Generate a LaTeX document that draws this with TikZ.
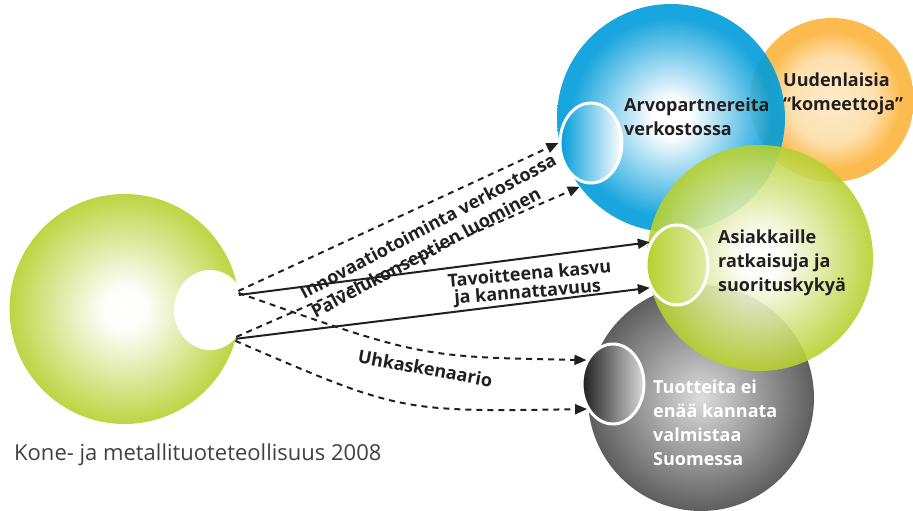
\documentclass[tikz,border=0pt]{standalone}
\usepackage{fontspec}
\setmainfont{Open Sans}
\usetikzlibrary{arrows.meta,shapes.geometric}
\definecolor{cblue}{RGB}{0,156,218}
\definecolor{cgreen}{RGB}{182,208,46}
\definecolor{corange}{RGB}{251,180,60}
\definecolor{cdark}{RGB}{35,31,32}
\definecolor{ctext}{RGB}{65,64,66}
\pgfdeclareradialshading{shblue}{\pgfpoint{0bp}{0bp}}{color(0bp)=(white); color(4bp)=(white); color(22bp)=(cblue); color(50bp)=(cblue)}
\pgfdeclareradialshading{shgreen}{\pgfpoint{0bp}{0bp}}{color(0bp)=(white); color(5bp)=(white!96!cgreen); color(25bp)=(cgreen); color(50bp)=(cgreen)}
\pgfdeclareradialshading{shorange}{\pgfpoint{0bp}{0bp}}{color(0bp)=(corange!30!white); color(13bp)=(corange!45!white); color(21bp)=(corange); color(50bp)=(corange)}
\pgfdeclareradialshading{shgray}{\pgfpoint{0bp}{0bp}}{color(0bp)=(black!15); color(25bp)=(black!70); color(50bp)=(black!70)}
\newcommand\lblfont{\fontsize{18}{24}\selectfont\bfseries}
\tikzset{
  ball/.style={circle, inner sep=0pt, fill opacity=0.9},
  ring/.style={ellipse, draw=white, line width=3pt, inner sep=0pt, minimum width=62pt, minimum height=80pt},
  conn/.style={line width=2pt, draw=cdark, -{Triangle[length=12pt,width=10pt]}},
  dotconn/.style={conn, dash pattern=on 6pt off 5pt},
  lbl/.style={font=\lblfont, text=cdark, inner sep=0pt, align=left},
}
\begin{document}
\begin{tikzpicture}[x=1pt,y=-1pt]
\useasboundingbox (0,0) rectangle (913,511);
% circles
\node[ball, shading=shgreen, minimum size=230pt] (src) at (124.5,309) {};
\node[ellipse, fill=white, inner sep=0pt, minimum width=72pt, minimum height=80pt] (hole) at (210,310) {};
\node[ball, shading=shorange, minimum size=164pt] (orange) at (832,100) {};
\node[ball, shading=shblue, minimum size=228pt] (blue) at (671,118) {};
\node[ball, shading=shgray, minimum size=226pt] (gray) at (701,398) {};
\node[ball, shading=shgreen, minimum size=226pt] (green) at (760,258) {};
% rings
\node[ring, left color=cblue, right color=white] (rb) at (591,143) {};
\node[ring, left color=cgreen, right color=white!60!cgreen] (rg) at (677,265) {};
\node[ring, left color=black!88, right color=black!15] (rgr) at (613,384) {};
% connectors
\draw[dotconn] (src.9) -- (rb.west);
\draw[dotconn] (src.-14) -- (blue.217);
\draw[conn] (src.7) -- (rg.140);
\draw[conn] (src.-15) -- (rg.220);
\draw[dotconn] (src.8) .. controls (420,357) .. (rgr.138);
\draw[dotconn] (src.-16) .. controls (400,412) .. (rgr.224);
% labels on connectors
\node[lbl, anchor=base, rotate=28] (l1) at (431,232) {Innovaatiotoiminta verkostossa};
\node[lbl, anchor=base, rotate=28] (l2) at (429,258) {Palvelukonseptien luominen};
\node[lbl, anchor=base, rotate=5] (l3) at (530,280) {Tavoitteena kasvu};
\node[lbl, anchor=base, rotate=4.5] (l4) at (528,298) {ja kannattavuus};
\node[lbl, anchor=base, rotate=-10.5] (l5) at (424,375) {Uhkaskenaario};
% labels in circles
\node[lbl, anchor=west] (t1) at (624,116.5) {Arvopartnereita\\verkostossa};
\node[lbl, anchor=west] (t2) at (783,94) {Uudenlaisia\\“komeettoja”};
\node[lbl, anchor=west] (t3) at (718,263) {Asiakkaille\\ratkaisuja ja\\suorituskykyä};
\node[lbl, anchor=west, text=white] (t4) at (653,423) {Tuotteita ei\\enää kannata\\valmistaa\\Suomessa};
\node[anchor=base west, inner sep=0pt, text=ctext, font=\fontsize{22}{26}\selectfont] (cap) at (14,460) {Kone- ja metallituoteteollisuus 2008};
\end{tikzpicture}
\end{document}
